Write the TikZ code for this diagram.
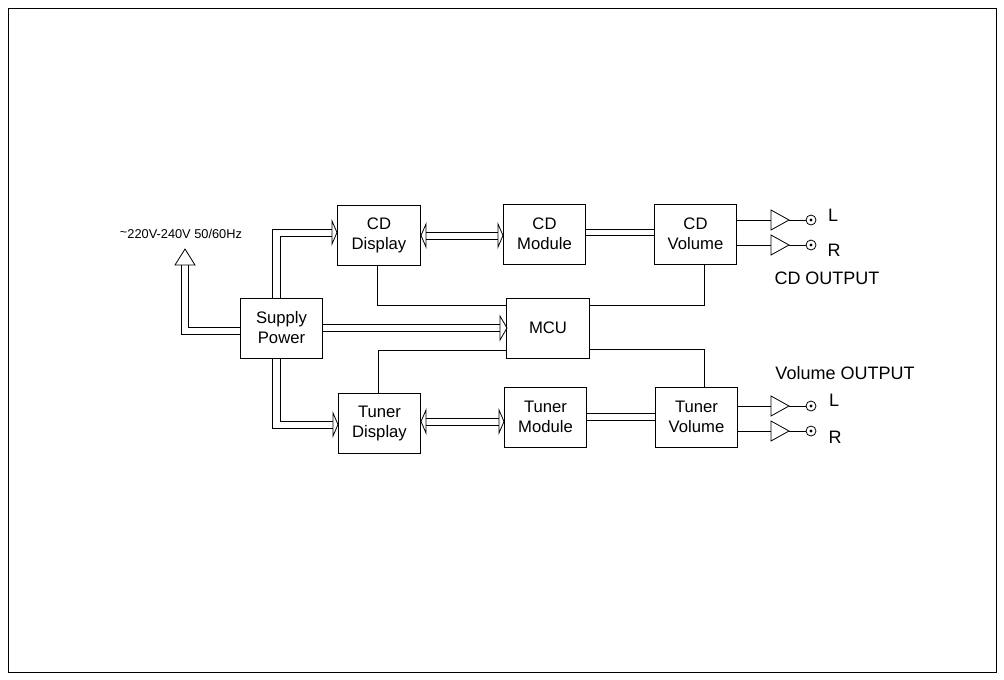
\documentclass[tikz,border=0pt]{standalone}
\usepackage{fontspec}
\setmainfont{Liberation Sans}
\begin{document}
\begin{tikzpicture}[x=0.75pt,y=-0.75pt,line width=0.6pt,
  box/.style={draw,line width=0.7pt,minimum width=62pt,minimum height=45pt,align=center,font=\fontsize{12.5}{15}\selectfont,inner sep=0pt},
  lbl/.style={font=\fontsize{13.5}{15}\selectfont},
  amp/.style={draw,line width=0.6pt},
  jack/.style={draw,circle,minimum size=7.5pt,inner sep=0pt,line width=0.6pt}]
\useasboundingbox (0,0) rectangle (1004,679);
\draw[line width=0.6pt] (8,8) rectangle (996,672);
\node[box] (cdd) at (379,235) {CD\\Display};
\node[box] (cdm) at (544.5,234) {CD\\Module};
\node[box] (cdv) at (695.5,234) {CD\\Volume};
\node[box] (sp) at (281.5,328) {Supply\\Power};
\node[box] (mcu) at (548,328) {MCU};
\node[box] (tud) at (379.5,423.5) {Tuner\\Display};
\node[box] (tum) at (545.5,417) {Tuner\\Module};
\node[box] (tuv) at (696.5,417) {Tuner\\Volume};
% supply to CD display
\draw (272,298) -- (272,229) -- (332,229);
\draw (280,298) -- (280,236) -- (332,236);
\draw (332,221) -- (332,244) -- (337,232.5) -- cycle;
% supply to tuner display
\draw (272,358) -- (272,428) -- (333,428);
\draw (280,358) -- (280,421) -- (333,421);
\draw (333,413) -- (333,436) -- (338,424.5) -- cycle;
% supply to MCU
\draw (323,324) -- (500,324);
\draw (323,331) -- (500,331);
\draw (500,316) -- (500,340) -- (507,328) -- cycle;
% mains
\draw (240,327) -- (188,327) -- (188,265);
\draw (240,334) -- (181,334) -- (181,265);
\draw (175,265) -- (195,265) -- (185,249) -- cycle;
\node[font=\fontsize{9.6}{11}\selectfont] (mains) at (181,234) {\raisebox{0.3ex}{\textasciitilde}220V-240V 50/60Hz};
% CD display <-> module
\draw (426,232) -- (498,232); \draw (426,239) -- (498,239);
\draw (426,224) -- (426,247) -- (421,235.5) -- cycle;
\draw (498,224) -- (498,247) -- (503,235.5) -- cycle;
\draw (cdm.east |- 0,229) -- (cdv.west |- 0,229);
\draw (cdm.east |- 0,235) -- (cdv.west |- 0,235);
% tuner display <-> module
\draw (426,418) -- (499,418); \draw (426,425) -- (499,425);
\draw (426,410) -- (426,433) -- (421,421.5) -- cycle;
\draw (499,410) -- (499,433) -- (504,421.5) -- cycle;
\draw (tum.east |- 0,413) -- (tuv.west |- 0,413);
\draw (tum.east |- 0,420) -- (tuv.west |- 0,420);
% MCU links
\draw (377,265) -- (377,305) -- (mcu.west |- 0,305);
\draw (704,264) -- (704,305) -- (mcu.east |- 0,305);
\draw (mcu.west |- 0,350) -- (378,350) -- (378,393);
\draw (mcu.east |- 0,349) -- (704,349) -- (704,387);
% outputs
\foreach \y/\n in {220/a,245/b,406/c,431/d}{
  \draw (737,\y) -- (771,\y);
  \draw[amp] (771,\y-10) -- (771,\y+10) -- (789,\y) -- cycle;
  \node[jack] (j\n) at (811,\y) {};
  \fill (j\n) circle (1.3pt);
  \draw (789,\y) -- (j\n.west);
}
\node[lbl] (l1) at (833,215) {L};
\node[lbl] (r1) at (834,250) {R};
\node[lbl] (l2) at (834,400) {L};
\node[lbl] (r2) at (835,437) {R};
\node[lbl] (cdo) at (827,278) {CD OUTPUT};
\node[lbl] (vo) at (845,373) {Volume OUTPUT};
\end{tikzpicture}
\end{document}
